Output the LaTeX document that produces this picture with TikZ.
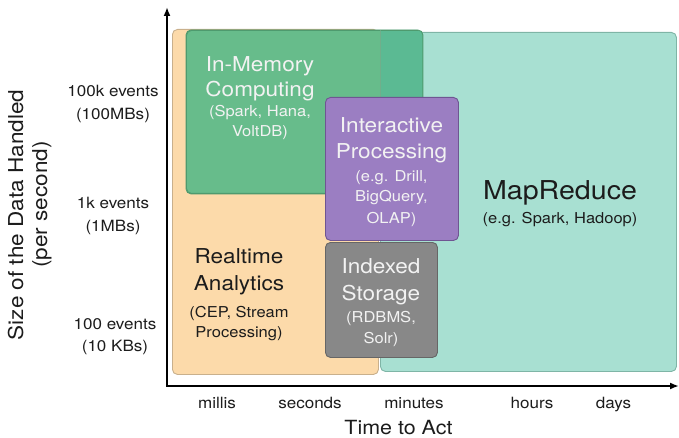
\documentclass[tikz,border=0pt]{standalone}
\usepackage{fontspec}
\setmainfont[FakeStretch=1.1]{TeX Gyre Heros}
\usetikzlibrary{arrows.meta}

\definecolor{orangeFill}{HTML}{FCDAAA}
\definecolor{orangeLine}{HTML}{C9B08C}
\definecolor{tealFill}{HTML}{A8E0D2}
\definecolor{tealLine}{HTML}{7FB5A6}
\definecolor{greenFill}{HTML}{67BC8B}
\definecolor{greenDark}{HTML}{5BBA93}
\definecolor{greenLine}{HTML}{4E9A6E}
\definecolor{purpleFill}{HTML}{9B7EC2}
\definecolor{purpleLine}{HTML}{6F5592}
\definecolor{grayFill}{HTML}{888888}
\definecolor{grayLine}{HTML}{666666}
\definecolor{paleText}{HTML}{F2F2F2}
\definecolor{inkText}{HTML}{1C1C1C}

\tikzset{
  box/.style={rounded corners=5pt, line width=0.9pt, inner sep=0pt, anchor=north west},
  axis/.style={line width=2.2pt, {Latex[length=9pt,width=7pt]}-{Latex[length=9pt,width=7pt]}},
  txt/.style={anchor=base, inner sep=0pt},
  head/.style={txt, font=\fontsize{20.5}{24}\selectfont},
  big/.style={txt, font=\fontsize{26}{30}\selectfont},
  sub/.style={txt, font=\fontsize{15}{18}\selectfont},
  tick/.style={txt, font=\fontsize{15.5}{18}\selectfont, text=inkText},
  ttl/.style={txt, font=\fontsize{19.5}{22}\selectfont, text=inkText},
}

\begin{document}
\begin{tikzpicture}[x=1pt, y=-1pt]
\useasboundingbox (0,0) rectangle (679,438);

% regions of the time / size plane
\node[box, fill=orangeFill, draw=orangeLine, minimum width=206pt, minimum height=345pt] (rt) at (172,29) {};
\node[box, fill=tealFill, draw=tealLine, minimum width=296pt, minimum height=339pt] (mr) at (380,32) {};
\node[box, fill=greenFill, draw=greenLine, minimum width=236pt, minimum height=163pt] (mem) at (186,30) {};
% part of the in-memory region lying over the MapReduce region
\begin{scope}
  \clip (mr.north west) rectangle (mem.south east);
  \fill[greenDark, rounded corners=5pt] (mem.north west) rectangle (mem.south east);
\end{scope}
\draw[greenLine!80, line width=0.8pt] (mem.north west -| mr.west) -- (mem.south west -| mr.west);
\draw[greenLine, line width=0.9pt, rounded corners=5pt] (mem.north west) rectangle (mem.south east);
\node[box, fill=purpleFill, draw=purpleLine, minimum width=133pt, minimum height=143pt] (ip) at (325,97) {};
\node[box, fill=grayFill, draw=grayLine, minimum width=112pt, minimum height=115pt] (is) at (325,242) {};

% axes
\coordinate (o) at (167,386);
\coordinate (ytip) at (167,7);
\coordinate (xtip) at (679,386);
\draw[axis, line join=miter] (ytip) -- (o) -- (xtip);

% region labels
\node[head, text=paleText] (mem1) at (260,72) {In-Memory};
\node[head, text=paleText] (mem2) at (260,97) {Computing};
\node[sub, text=paleText] (mem3) at (260,117) {(Spark, Hana,};
\node[sub, text=paleText] (mem4) at (260,137) {VoltDB)};

\node[head, text=paleText] (ip1) at (391.5,133) {Interactive};
\node[head, text=paleText] (ip2) at (391.5,159) {Processing};
\node[sub, text=paleText] (ip3) at (391.5,182) {(e.g. Drill,};
\node[sub, text=paleText] (ip4) at (391.5,202) {BigQuery,};
\node[sub, text=paleText] (ip5) at (391.5,223) {OLAP)};

\node[head, text=paleText] (is1) at (381,273) {Indexed};
\node[head, text=paleText] (is2) at (381,300) {Storage};
\node[sub, text=paleText] (is3) at (381,322) {(RDBMS,};
\node[sub, text=paleText] (is4) at (381,343) {Solr)};

\node[head, text=inkText] (rt1) at (239,263) {Realtime};
\node[head, text=inkText] (rt2) at (239,290) {Analytics};
\node[sub, text=inkText] (rt3) at (239,317) {(CEP, Stream};
\node[sub, text=inkText] (rt4) at (239,337) {Processing)};

\node[big, text=inkText] (mr1) at (560,200) {MapReduce};
\node[sub, text=inkText] (mr2) at (560,223) {(e.g. Spark, Hadoop)};

% vertical scale
\node[tick] (y1a) at (113,97) {100k events};
\node[tick] (y1b) at (113,120) {(100MBs)};
\node[tick] (y2a) at (113,209) {1k events};
\node[tick] (y2b) at (113,231) {(1MBs)};
\node[tick] (y3a) at (115,329) {100 events};
\node[tick] (y3b) at (115,351) {(10 KBs)};
\node[ttl, font=\fontsize{20.5}{24}\selectfont, rotate=90] (ytitle) at (23,215) {Size of the Data Handled};
\node[ttl, font=\fontsize{20.5}{24}\selectfont, rotate=90] (ysub) at (47,204.5) {(per second)};

% horizontal scale
\node[tick] (x1) at (217,408) {millis};
\node[tick] (x2) at (310,408) {seconds};
\node[tick] (x3) at (414,408) {minutes};
\node[tick] (x4) at (532,408) {hours};
\node[tick] (x5) at (613.5,408) {days};
\node[ttl] (xtitle) at (398.5,434) {Time to Act};
\end{tikzpicture}
\end{document}
